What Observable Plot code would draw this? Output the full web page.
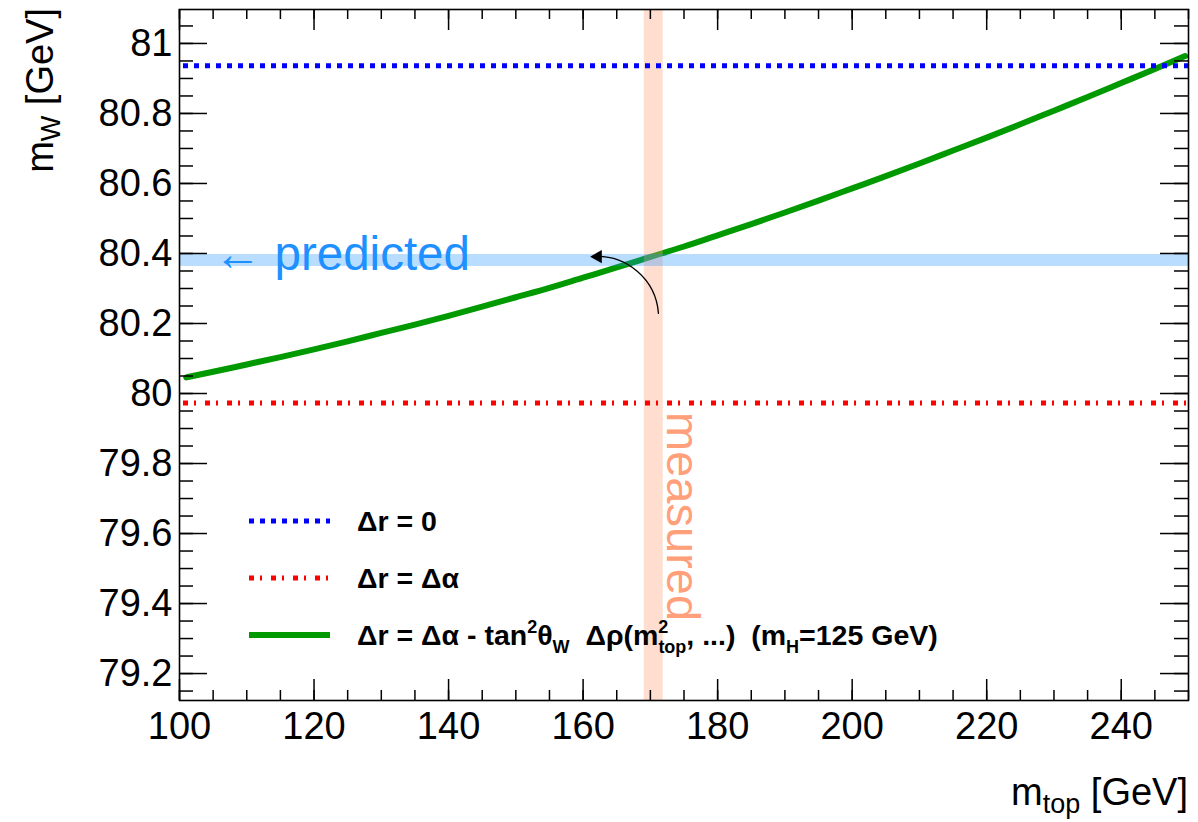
<!DOCTYPE html>
<html>
<head>
<meta charset="utf-8">
<script src="https://cdn.jsdelivr.net/npm/d3@7"></script>
<script src="https://cdn.jsdelivr.net/npm/@observablehq/plot@0.6"></script>
<style>
  body { margin: 0; background: #fff; }
  #chart { width: 1198px; height: 822px; }
</style>
</head>
<body>
<div id="chart"></div>
<script>
// W mass as a function of the top mass (m_H = 125 GeV)
const mTop = [101, 105, 110, 115, 120, 125, 130, 135, 140, 145, 150, 155, 160, 165, 170,
              175, 180, 185, 190, 195, 200, 205, 210, 215, 220, 225, 230, 235, 240, 245, 249.5];
const mW   = [80.046, 80.062, 80.083, 80.104, 80.126, 80.149, 80.173, 80.197, 80.222, 80.248,
              80.275, 80.302, 80.331, 80.360, 80.390, 80.420, 80.452, 80.484, 80.517, 80.551,
              80.586, 80.621, 80.657, 80.694, 80.731, 80.769, 80.808, 80.847, 80.887, 80.927, 80.964];

// Reference lines
const mWTree = 80.936;        // Δr = 0
const mWDeltaAlpha = 79.973;  // Δr = Δα

// Bands
const predictedBand = [80.363, 80.397];   // m_W
const measuredBand = [169.1, 171.9];      // m_top

// Axis ticks
const xMajor = [100, 120, 140, 160, 180, 200, 220, 240];
const xMinor = d3.range(100, 251, 5);
const yMajor = [79.2, 79.4, 79.6, 79.8, 80, 80.2, 80.4, 80.6, 80.8, 81];
const yMinor = d3.range(0, 40).map(i => +(79.15 + i * 0.05).toFixed(2)).filter(v => v < 81.09);

// Annotations (data coordinates)
const predictedLabel = {x: 105.1, text: "← predicted"};
const measuredLabel = {y: 79.947, text: "measured"};
const curvedArrow = {x1: 171.2, y1: 80.229, x2: 161.4, y2: 80.391};

// Legend entries
const legendItems = [
  {color: "#0000ff", width: 5, dash: "5 6",
   label: [{t: "Δr = 0"}]},
  {color: "#ff0000", width: 5, dash: "5 6 2 9",
   label: [{t: "Δr = Δα"}]},
  {color: "#009a00", width: 6, dash: null,
   label: [{t: "Δr = Δα - tan"}, {t: "2", pos: "sup"}, {t: "θ"}, {t: "W", pos: "sub"},
           {t: "  Δρ(m"}, {t: "2", pos: "sup"}, {t: "top", pos: "sub", dx: -10},
           {t: ", ...)  (m"}, {t: "H", pos: "sub"}, {t: "=125 GeV)"}]}
];

const FONT = "'Liberation Sans', Arial, Helvetica, sans-serif";
const W = 1198, H = 822;
const ml = 179, mr = 10, mt = 9, mb = 122;
const FW = W - ml - mr, FH = H - mt - mb;

const curve = mTop.map((m, i) => ({mTop: m, mW: mW[i]}));
const fmt = d => String(+d.toFixed(1));

const plot = Plot.plot({
  width: W, height: H,
  marginLeft: ml, marginRight: mr, marginTop: mt, marginBottom: mb,
  x: {domain: [100, 250], label: null},
  y: {domain: [79.123, 81.097], label: null},
  style: {fontFamily: FONT, background: "white", color: "black"},
  marks: [
    Plot.line(curve, {x: "mTop", y: "mW", stroke: "#009a00", strokeWidth: 6, curve: "monotone-x"}),
    Plot.rect([measuredBand], {x1: d => d[0], x2: d => d[1], fill: "#ffa07a", fillOpacity: 0.36}),
    Plot.rect([predictedBand], {y1: d => d[0], y2: d => d[1], fill: "#1e90ff", fillOpacity: 0.31}),
    Plot.ruleY([mWTree], {stroke: "#0000ff", strokeWidth: 5, strokeDasharray: "5 6", strokeDashoffset: 7}),
    Plot.ruleY([mWDeltaAlpha], {stroke: "#ff0000", strokeWidth: 5, strokeDasharray: "5 6 2 9", strokeDashoffset: 18}),
    Plot.text([predictedLabel], {x: "x", y: () => (predictedBand[0] + predictedBand[1]) / 2, text: "text",
      textAnchor: "start", dy: -6, fill: "#1e90ff", fontSize: 47.5}),
    Plot.text([measuredLabel], {x: () => measuredBand[1], y: "y", text: "text", dx: 19,
      rotate: 90, textAnchor: "start", fill: "#ffa07a", fontSize: 47}),
    Plot.arrow([curvedArrow], {x1: "x1", y1: "y1", x2: "x2", y2: "y2", bend: -45,
      headLength: 0, stroke: "black", strokeWidth: 1.3}),
    Plot.dot([curvedArrow], {x: d => d.x2 + 0.8, y: "y2", symbol: "triangle", r: 5,
      rotate: -90, fill: "black", stroke: null}),
    // tick marks pointing into the frame on all four sides
    Plot.ruleX(xMajor, {insetTop: FH - 21, stroke: "black", strokeWidth: 1.5}),
    Plot.ruleX(xMinor, {insetTop: FH - 10, stroke: "black", strokeWidth: 1.5}),
    Plot.ruleX(xMajor, {insetBottom: FH - 21, stroke: "black", strokeWidth: 1.5}),
    Plot.ruleX(xMinor, {insetBottom: FH - 10, stroke: "black", strokeWidth: 1.5}),
    Plot.ruleY(yMajor, {insetRight: FW - 28, stroke: "black", strokeWidth: 1.5}),
    Plot.ruleY(yMinor, {insetRight: FW - 14, stroke: "black", strokeWidth: 1.5}),
    Plot.ruleY(yMajor, {insetLeft: FW - 28, stroke: "black", strokeWidth: 1.5}),
    Plot.ruleY(yMinor, {insetLeft: FW - 14, stroke: "black", strokeWidth: 1.5}),
    Plot.axisX(xMajor, {anchor: "bottom", tickSize: 0, tickPadding: 12, fontSize: 38,
      tickFormat: fmt, label: null}),
    Plot.axisY(yMajor, {anchor: "left", tickSize: 0, tickPadding: 7, fontSize: 38,
      tickFormat: fmt, label: null}),
    Plot.frame({stroke: "black", strokeWidth: 1.6})
  ]
});

document.getElementById("chart").appendChild(plot);

// Axis titles with subscripts, and the legend
const svg = d3.select(plot);

function addRich(textSel, parts, size, supShift, subShift, smallSize) {
  let cur = 0;
  parts.forEach(p => {
    const target = p.pos === "sup" ? supShift : p.pos === "sub" ? subShift : 0;
    const ts = textSel.append("tspan").text(p.t)
      .attr("font-size", p.pos ? smallSize : size);
    if (target !== cur) ts.attr("dy", target - cur);
    if (p.dx) ts.attr("dx", p.dx);
    cur = target;
  });
}

const yTitle = svg.append("text")
  .attr("transform", "translate(53,8) rotate(-90)")
  .attr("text-anchor", "end")
  .attr("font-family", FONT).attr("fill", "black");
addRich(yTitle, [{t: "m"}, {t: "W", pos: "sub"}, {t: " [GeV]"}], 38, -12, 7, 27);

const xTitle = svg.append("text")
  .attr("x", 1188).attr("y", 805)
  .attr("text-anchor", "end")
  .attr("font-family", FONT).attr("fill", "black");
addRich(xTitle, [{t: "m"}, {t: "top", pos: "sub"}, {t: " [GeV]"}], 38, -12, 8, 27);

const legend = svg.append("g")
  .attr("font-family", FONT).attr("font-weight", "bold")
  .attr("text-anchor", "start")
  .style("white-space", "pre");
legendItems.forEach((it, i) => {
  const y = 521 + i * 57;
  legend.append("line")
    .attr("x1", 249).attr("x2", 330).attr("y1", y).attr("y2", y)
    .attr("stroke", it.color).attr("stroke-width", it.width)
    .attr("stroke-dasharray", it.dash);
  const t = legend.append("text").attr("x", 357).attr("y", y + 10).attr("fill", "black");
  addRich(t, it.label, 28.5, -12, 8, 18);
});
</script>
</body>
</html>
